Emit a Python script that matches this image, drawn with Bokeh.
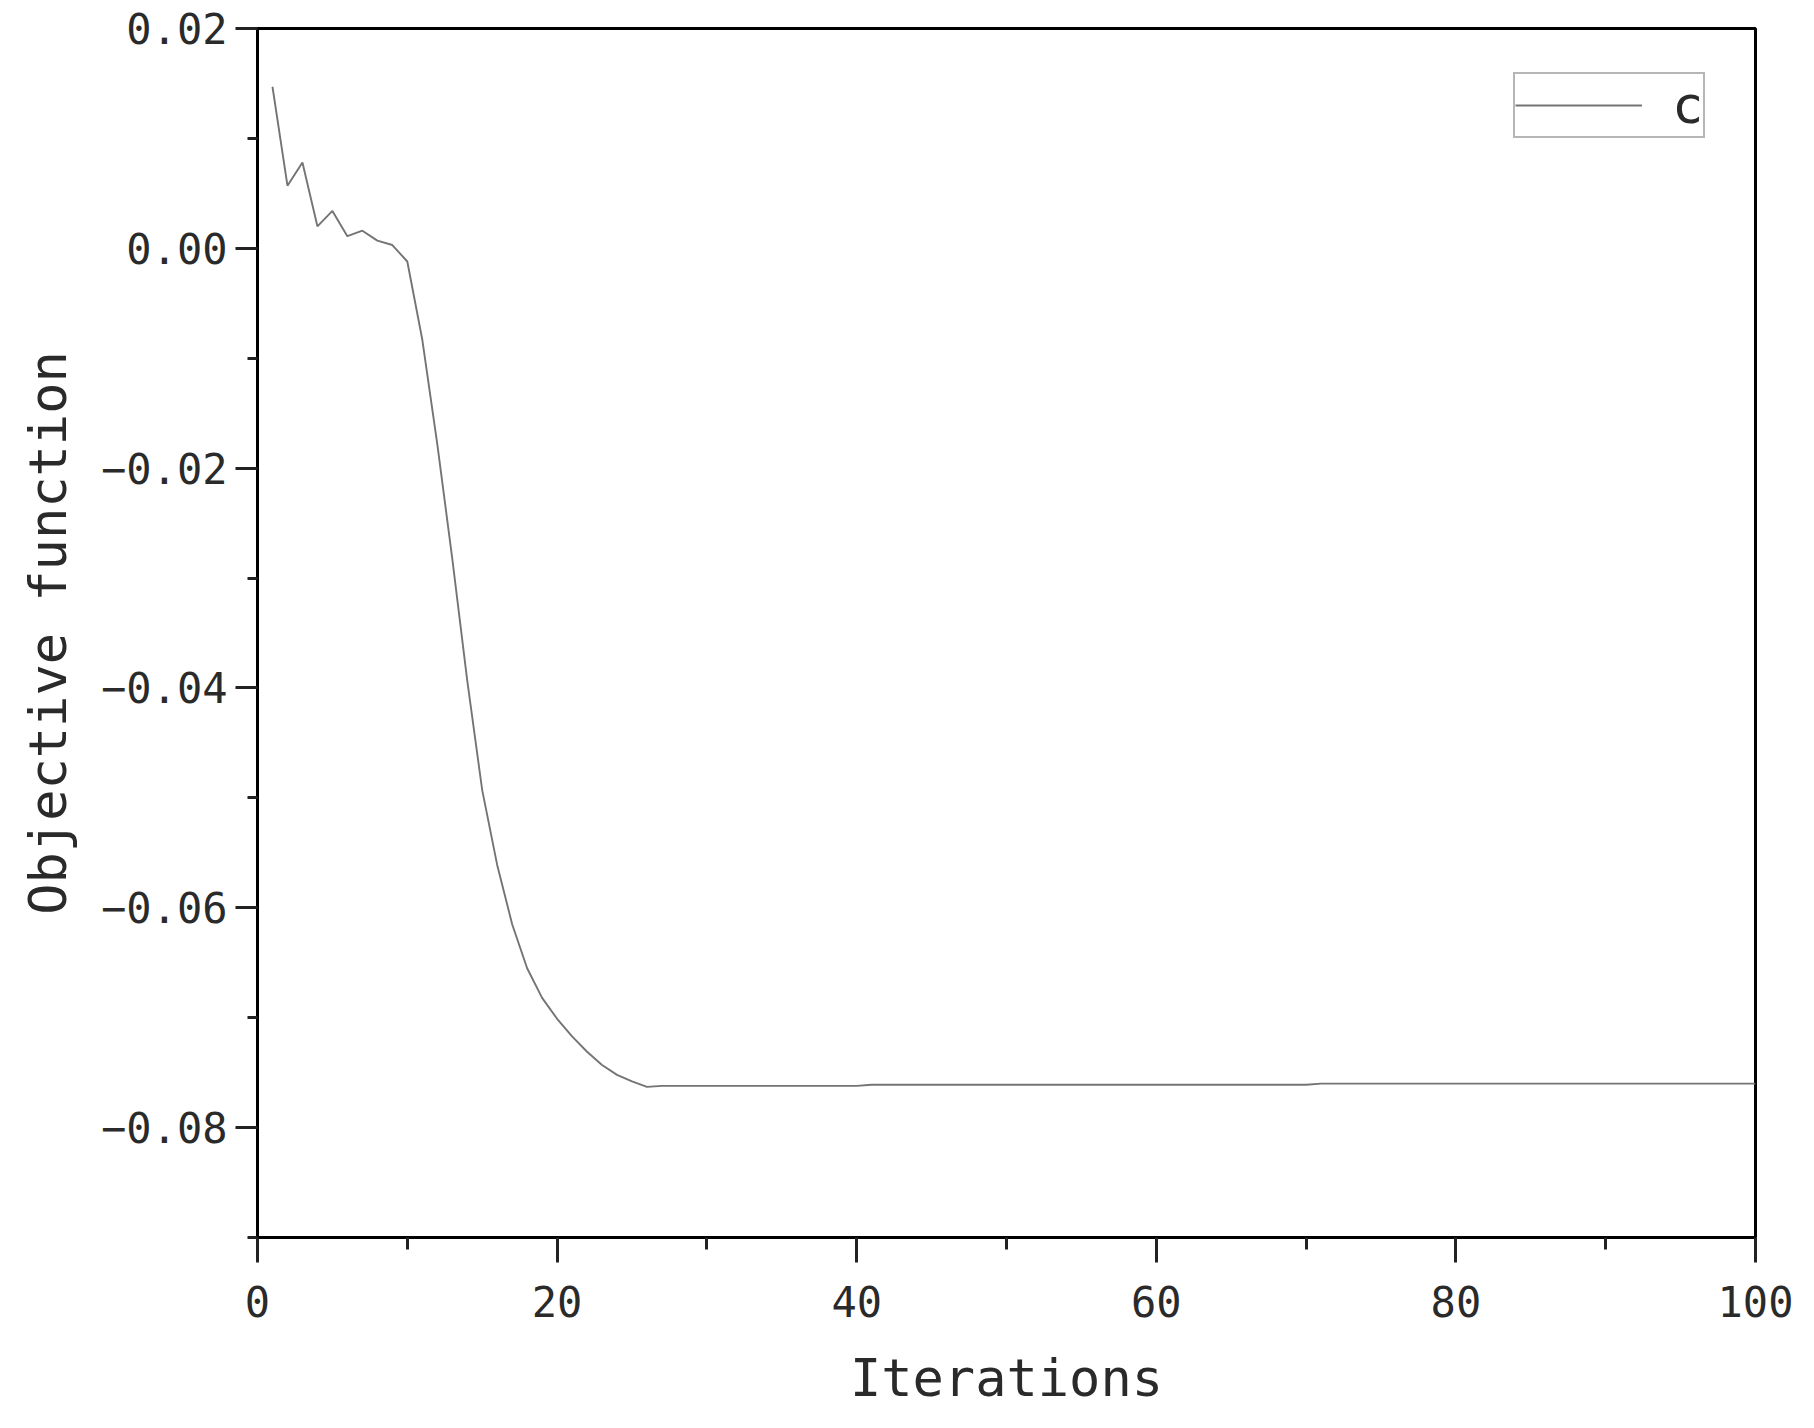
from bokeh.plotting import figure
from bokeh.models import (ColumnDataSource, FixedTicker, CustomJSTickFormatter,
                          Legend, LegendItem, Range1d)
from bokeh.embed import file_html
from bokeh.resources import INLINE

# ---- data ----
iterations = list(range(1, 101))
objective = [
    0.0147, 0.0057, 0.0078, 0.0020, 0.0034, 0.0011, 0.0016, 0.0007, 0.0003, -0.0012,
    -0.0083, -0.0178, -0.0282, -0.0393, -0.0493, -0.0561, -0.0615, -0.0655, -0.0682, -0.0701,
    -0.0717, -0.0731, -0.0743, -0.0752, -0.0758, -0.0763, -0.0762, -0.0762, -0.0762, -0.0762,
    -0.0762, -0.0762, -0.0762, -0.0762, -0.0762, -0.0762, -0.0762, -0.0762, -0.0762, -0.0762,
    -0.0761, -0.0761, -0.0761, -0.0761, -0.0761, -0.0761, -0.0761, -0.0761, -0.0761, -0.0761,
    -0.0761, -0.0761, -0.0761, -0.0761, -0.0761, -0.0761, -0.0761, -0.0761, -0.0761, -0.0761,
    -0.0761, -0.0761, -0.0761, -0.0761, -0.0761, -0.0761, -0.0761, -0.0761, -0.0761, -0.0761,
    -0.0760, -0.0760, -0.0760, -0.0760, -0.0760, -0.0760, -0.0760, -0.0760, -0.0760, -0.0760,
    -0.0760, -0.0760, -0.0760, -0.0760, -0.0760, -0.0760, -0.0760, -0.0760, -0.0760, -0.0760,
    -0.0760, -0.0760, -0.0760, -0.0760, -0.0760, -0.0760, -0.0760, -0.0760, -0.0760, -0.0760,
]
series_name = "c"
x_major_ticks = [0, 20, 40, 60, 80, 100]
x_minor_ticks = [10, 30, 50, 70, 90]
y_major_ticks = [0.02, 0.0, -0.02, -0.04, -0.06, -0.08]
y_minor_ticks = [0.01, -0.01, -0.03, -0.05, -0.07, -0.09]
x_label = "Iterations"
y_label = "Objective function"

FONT = "DejaVu Sans Mono"

p = figure(frame_width=1498, frame_height=1209,
           min_border_left=257, min_border_right=48,
           min_border_top=28, min_border_bottom=175,
           x_range=Range1d(0, 100), y_range=Range1d(-0.09, 0.02),
           output_backend="svg", toolbar_location=None)

p.background_fill_color = "white"
p.border_fill_color = "white"
p.outline_line_color = "black"
p.outline_line_width = 3
p.xgrid.visible = False
p.ygrid.visible = False

src = ColumnDataSource(data=dict(x=iterations, y=objective))
r = p.line("x", "y", source=src, line_color="#747474", line_width=1.9)

p.xaxis.ticker = FixedTicker(ticks=x_major_ticks, minor_ticks=x_minor_ticks)
p.yaxis.ticker = FixedTicker(ticks=y_major_ticks, minor_ticks=y_minor_ticks)
p.yaxis.formatter = CustomJSTickFormatter(
    code="var s = Math.abs(tick) < 1e-12 ? (0).toFixed(2) : tick.toFixed(2); return s.replace('-', '\u2212');")
p.xaxis.formatter = CustomJSTickFormatter(code="return Math.round(tick).toString();")

for ax in (p.xaxis[0], p.yaxis[0]):
    ax.axis_line_color = "black"
    ax.axis_line_width = 3
    ax.major_tick_line_color = "#222222"
    ax.major_tick_line_width = 3
    ax.minor_tick_line_color = "#222222"
    ax.minor_tick_line_width = 3
    ax.major_tick_in = 0
    ax.minor_tick_in = 0
    ax.major_label_text_font = FONT
    ax.major_label_text_font_size = "42px"
    ax.major_label_text_color = "#2a2a2a"
    ax.axis_label_text_font = FONT
    ax.axis_label_text_font_size = "52px"
    ax.axis_label_text_font_style = "normal"
    ax.axis_label_text_color = "#2a2a2a"

p.xaxis.major_tick_out = 25
p.xaxis.minor_tick_out = 12
p.yaxis.major_tick_out = 22
p.yaxis.minor_tick_out = 10
p.xaxis.major_label_standoff = 23
p.yaxis.major_label_standoff = 8
p.xaxis.axis_label = x_label
p.yaxis.axis_label = y_label
p.xaxis.axis_label_standoff = 28
p.yaxis.axis_label_standoff = 20

legend = Legend(items=[LegendItem(label=series_name, renderers=[r])],
                location=(1256, 1099))
legend.glyph_width = 127
legend.glyph_height = 62
legend.label_height = 62
legend.label_width = 31
legend.label_standoff = 30
legend.padding = 0
legend.spacing = 0
legend.margin = 0
legend.border_line_color = "#6e6e6e"
legend.border_line_width = 2.5
legend.background_fill_color = "white"
legend.background_fill_alpha = 1
legend.label_text_font = FONT
legend.label_text_font_size = "52px"
legend.label_text_color = "#2a2a2a"
p.add_layout(legend, "center")

open("out.html", "w").write(file_html(p, INLINE))
